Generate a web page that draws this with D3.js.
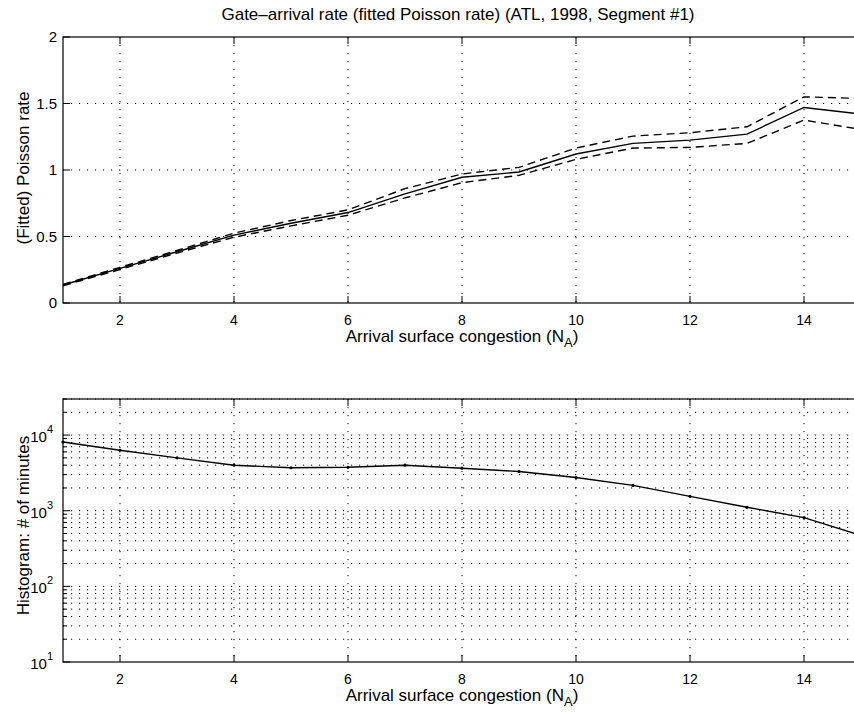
<!DOCTYPE html>
<html>
<head>
<meta charset="utf-8">
<script src="https://cdn.jsdelivr.net/npm/d3@7"></script>
<style>
  body { margin: 0; background: #fff; }
  svg { display: block; font-family: "Liberation Sans", Arial, sans-serif; }
</style>
</head>
<body>
<svg id="chart"></svg>
<script>
// congestion levels N_A
const congestion = [1, 2, 3, 4, 5, 6, 7, 8, 9, 10, 11, 12, 13, 14, 15];

// fitted Poisson rate and its confidence band
const rate      = [0.135, 0.26, 0.385, 0.51, 0.60, 0.68, 0.82, 0.945, 0.985, 1.12, 1.20, 1.225, 1.27, 1.47, 1.42];
const rateUpper = [0.14, 0.268, 0.395, 0.525, 0.62, 0.70, 0.86, 0.97, 1.02, 1.165, 1.255, 1.28, 1.325, 1.55, 1.538];
const rateLower = [0.13, 0.252, 0.375, 0.495, 0.58, 0.66, 0.79, 0.905, 0.96, 1.08, 1.165, 1.17, 1.20, 1.375, 1.305];

// histogram: minutes observed at each congestion level
const minutes = [8100, 6300, 5000, 4000, 3700, 3750, 4000, 3650, 3300, 2750, 2160, 1550, 1110, 810, 470];

const xTicks = [2, 4, 6, 8, 10, 12, 14];
const rateTicks = [0, 0.5, 1, 1.5, 2];
const logTicks = [1e1, 1e2, 1e3, 1e4];

const width = 854;
const height = 713;
const left = 63;

const svg = d3.select("#chart").attr("width", width).attr("height", height);

const x = d3.scaleLinear().domain([1, 15]).range([left, left + 14 * 57]);
const right = x(15);

const dotted = "1.2,6.8";

function frame(top, bottom) {
  svg.append("rect")
    .attr("x", left).attr("y", top)
    .attr("width", right - left).attr("height", bottom - top)
    .attr("fill", "none").attr("stroke", "#000").attr("stroke-width", 1.2);
}

function xAxis(top, bottom) {
  const g = svg.append("g");
  // vertical grid
  g.selectAll(".vg").data(xTicks).join("line")
    .attr("x1", d => x(d)).attr("x2", d => x(d))
    .attr("y1", top).attr("y2", bottom)
    .attr("stroke", "#000").attr("stroke-dasharray", dotted);
  // inward ticks bottom and top
  g.selectAll(".tb").data(xTicks).join("line")
    .attr("x1", d => x(d)).attr("x2", d => x(d))
    .attr("y1", bottom).attr("y2", bottom - 7)
    .attr("stroke", "#000");
  g.selectAll(".tt").data(xTicks).join("line")
    .attr("x1", d => x(d)).attr("x2", d => x(d))
    .attr("y1", top).attr("y2", top + 7)
    .attr("stroke", "#000");
  g.selectAll(".tl").data(xTicks).join("text")
    .attr("x", d => x(d)).attr("y", bottom + 22)
    .attr("text-anchor", "middle").attr("font-size", 14)
    .text(d => d);
  const lab = svg.append("text")
    .attr("x", 462).attr("y", bottom + 39)
    .attr("text-anchor", "middle").attr("font-size", 17)
    .text("Arrival surface congestion (N");
  lab.append("tspan").attr("dy", 5).attr("font-size", 13).text("A");
  lab.append("tspan").attr("dy", -5).text(")");
}

// ---------- top panel ----------
const top1 = 37, bot1 = 303;
const y1 = d3.scaleLinear().domain([0, 2]).range([bot1, top1]);

svg.append("text")
  .attr("x", 458).attr("y", 20)
  .attr("text-anchor", "middle").attr("font-size", 17)
  .text("Gate\u2013arrival rate (fitted Poisson rate) (ATL, 1998, Segment #1)");

svg.append("g").selectAll("line").data(rateTicks.slice(1, -1)).join("line")
  .attr("x1", left).attr("x2", right)
  .attr("y1", d => y1(d)).attr("y2", d => y1(d))
  .attr("stroke", "#000").attr("stroke-dasharray", dotted);

svg.append("g").selectAll("line").data(rateTicks).join("line")
  .attr("x1", left).attr("x2", left + 7)
  .attr("y1", d => y1(d)).attr("y2", d => y1(d))
  .attr("stroke", "#000");

svg.append("g").selectAll("text").data(rateTicks).join("text")
  .attr("x", left - 6).attr("y", d => y1(d) + 5)
  .attr("text-anchor", "end").attr("font-size", 15)
  .text(d => d);

svg.append("text")
  .attr("transform", `translate(29,${(top1 + bot1) / 2 - 2}) rotate(-90)`)
  .attr("text-anchor", "middle").attr("font-size", 17)
  .text("(Fitted) Poisson rate");

xAxis(top1, bot1);

const line1 = d3.line().x((d, i) => x(congestion[i])).y(d => y1(d));
svg.append("path").datum(rate).attr("d", line1)
  .attr("fill", "none").attr("stroke", "#000").attr("stroke-width", 1.4);
[rateUpper, rateLower].forEach(s => {
  svg.append("path").datum(s).attr("d", line1)
    .attr("fill", "none").attr("stroke", "#000").attr("stroke-width", 1.4)
    .attr("stroke-dasharray", "8,5");
});
frame(top1, bot1);

// ---------- bottom panel ----------
const top2 = 399, bot2 = 662;
const y2 = d3.scaleLog().domain([10, 3e4]).range([bot2, top2]);

const minor = [];
for (const dec of [10, 100, 1000, 10000]) {
  for (let m = 2; m <= 9; m++) {
    if (dec * m <= 3e4) minor.push(dec * m);
  }
}

svg.append("g").selectAll("line").data(logTicks.slice(1).concat(minor)).join("line")
  .attr("x1", left).attr("x2", right)
  .attr("y1", d => y2(d)).attr("y2", d => y2(d))
  .attr("stroke", "#000").attr("stroke-dasharray", dotted);

svg.append("g").selectAll("line").data(logTicks).join("line")
  .attr("x1", left).attr("x2", left + 7)
  .attr("y1", d => y2(d)).attr("y2", d => y2(d))
  .attr("stroke", "#000");
svg.append("g").selectAll("line").data(minor).join("line")
  .attr("x1", left).attr("x2", left + 4)
  .attr("y1", d => y2(d)).attr("y2", d => y2(d))
  .attr("stroke", "#000");

const ylab = svg.append("g").selectAll("text").data(logTicks).join("text")
  .attr("x", left - 10).attr("y", d => y2(d) + 7)
  .attr("text-anchor", "end").attr("font-size", 15);
ylab.append("tspan").text("10");
ylab.append("tspan").attr("dy", -9).attr("font-size", 11)
  .text(d => Math.round(Math.log10(d)));

svg.append("text")
  .attr("transform", `translate(29,${(top2 + bot2) / 2 - 5}) rotate(-90)`)
  .attr("text-anchor", "middle").attr("font-size", 17)
  .text("Histogram: # of minutes");

xAxis(top2, bot2);

const line2 = d3.line().x((d, i) => x(congestion[i])).y(d => y2(d));
svg.append("path").datum(minutes).attr("d", line2)
  .attr("fill", "none").attr("stroke", "#000").attr("stroke-width", 1.4);
svg.append("g").selectAll("circle").data(minutes).join("circle")
  .attr("cx", (d, i) => x(congestion[i])).attr("cy", d => y2(d))
  .attr("r", 1.6).attr("fill", "#000");
frame(top2, bot2);
</script>
</body>
</html>
